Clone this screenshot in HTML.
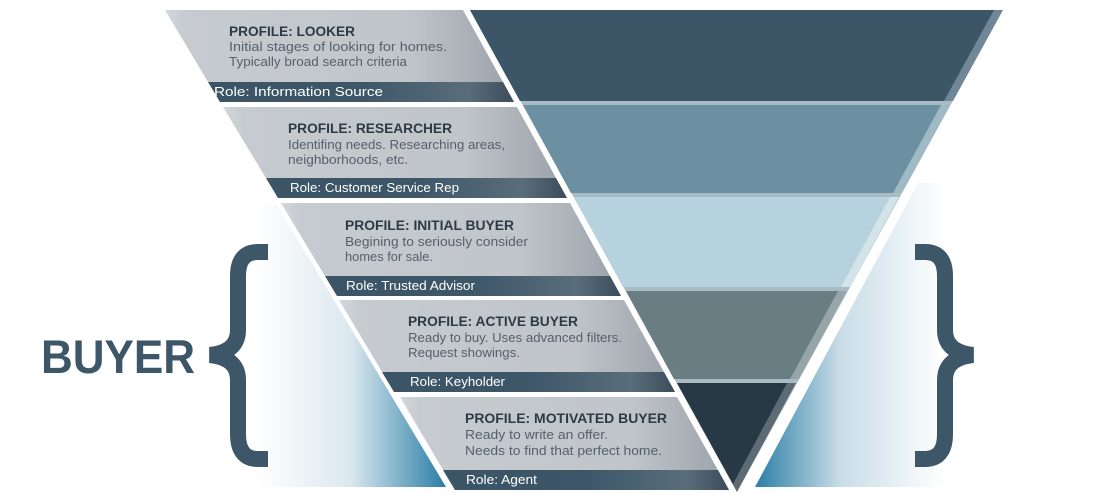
<!DOCTYPE html>
<html><head><meta charset="utf-8"><style>
html,body{margin:0;padding:0;background:#fff;width:1094px;height:495px;overflow:hidden}
svg{display:block}
.h{font-family:"Liberation Sans",sans-serif;font-weight:bold;font-size:13.5px;fill:#2e3a44}
.b{font-family:"Liberation Sans",sans-serif;font-size:12.5px;fill:#56606a}
.r{font-family:"Liberation Sans",sans-serif;font-size:12.5px;fill:#fff}
</style></head><body>
<svg width="1094" height="495" viewBox="0 0 1094 495" xmlns="http://www.w3.org/2000/svg">
<defs>
<linearGradient id="gl" gradientUnits="userSpaceOnUse" x1="255" y1="0" x2="446" y2="0"><stop offset="0" stop-color="#fff"/><stop offset="0.5" stop-color="#dbe8ef"/><stop offset="1" stop-color="#2a7ea6"/></linearGradient>
<linearGradient id="gr" gradientUnits="userSpaceOnUse" x1="755" y1="0" x2="945" y2="0"><stop offset="0" stop-color="#2a7ea6"/><stop offset="0.45" stop-color="#c9dde7"/><stop offset="1" stop-color="#fff"/></linearGradient>
<linearGradient id="gy" x1="0" y1="0" x2="1" y2="0"><stop offset="0" stop-color="#d3d7db"/><stop offset="0.06" stop-color="#c6cbd0"/><stop offset="0.7" stop-color="#c0c5ca"/><stop offset="1" stop-color="#9aa1a8"/></linearGradient>
<linearGradient id="rb" x1="0" y1="0" x2="1" y2="0"><stop offset="0" stop-color="#3b5567"/><stop offset="0.5" stop-color="#3d5769"/><stop offset="0.85" stop-color="#5a6d7a"/><stop offset="1" stop-color="#3b4d5a"/></linearGradient>
</defs>
<polygon points="230,205 277,205 446,487 230,487" fill="url(#gl)"/>
<polygon points="918,183 945,183 945,487 755,487" fill="url(#gr)"/>

<polygon points="470,10 1003,10 737,492" fill="#a9bcc6"/>
<polygon points="470,10 1003,10 953,101 520,101" fill="#6f8796"/>
<polygon points="470,10 994,10 944,101 520,101" fill="#3c5668"/>
<polygon points="523,105 950,105 902,193 571,193" fill="#9fb9c5"/>
<polygon points="523,105 941,105 893,193 571,193" fill="#6b90a2"/>
<polygon points="574,197 899,197 850,287 623,287" fill="#d2e3ea"/>
<polygon points="574,197 890,197 841,287 623,287" fill="#b6d2de"/>
<polygon points="626,291 847,291 799,379 674,379" fill="#95a5a8"/>
<polygon points="626,291 838,291 790,379 674,379" fill="#687e82"/>
<polygon points="677,383 796,383 737,492" fill="#5d6b75"/>
<polygon points="677,383 787,383 733,484" fill="#283946"/>

<polygon points="165,10 463,10 514,102 220,102" fill="url(#gy)"/>
<polygon points="208,82 503,82 514,102 220,102" fill="url(#rb)"/>
<polygon points="223,107 517,107 567,198 278,198" fill="url(#gy)"/>
<polygon points="266,178 556,178 567,198 278,198" fill="url(#rb)"/>
<polygon points="281,203 570,203 621,296 337,296" fill="url(#gy)"/>
<polygon points="325,276 610,276 621,296 337,296" fill="url(#rb)"/>
<polygon points="339,300 624,300 675,392 394,392" fill="url(#gy)"/>
<polygon points="382,372 664,372 675,392 394,392" fill="url(#rb)"/>
<polygon points="400,397 677,397 729,490 455,490" fill="url(#gy)"/>
<polygon points="443,470 718,470 729,490 455,490" fill="url(#rb)"/>

<g lengthAdjust="spacingAndGlyphs">
<text class="h" x="229" y="36" textLength="126" lengthAdjust="spacingAndGlyphs">PROFILE: LOOKER</text>
<text class="b" x="229" y="51" textLength="218" lengthAdjust="spacingAndGlyphs">Initial stages of looking for homes.</text>
<text class="b" x="229" y="66" textLength="178" lengthAdjust="spacingAndGlyphs">Typically broad search criteria</text>
<text class="r" x="214" y="96" textLength="169" lengthAdjust="spacingAndGlyphs">Role: Information Source</text>

<text class="h" x="288" y="133" textLength="164" lengthAdjust="spacingAndGlyphs">PROFILE: RESEARCHER</text>
<text class="b" x="288" y="149" textLength="217" lengthAdjust="spacingAndGlyphs">Identifing needs. Researching areas,</text>
<text class="b" x="288" y="164" textLength="120" lengthAdjust="spacingAndGlyphs">neighborhoods, etc.</text>
<text class="r" x="290" y="192" textLength="169" lengthAdjust="spacingAndGlyphs">Role: Customer Service Rep</text>

<text class="h" x="345" y="230" textLength="169" lengthAdjust="spacingAndGlyphs">PROFILE: INITIAL BUYER</text>
<text class="b" x="345" y="246" textLength="183" lengthAdjust="spacingAndGlyphs">Begining to seriously consider</text>
<text class="b" x="345" y="261" textLength="88" lengthAdjust="spacingAndGlyphs">homes for sale.</text>
<text class="r" x="346" y="290" textLength="129" lengthAdjust="spacingAndGlyphs">Role: Trusted Advisor</text>

<text class="h" x="408" y="326" textLength="170" lengthAdjust="spacingAndGlyphs">PROFILE: ACTIVE BUYER</text>
<text class="b" x="408" y="342" textLength="214" lengthAdjust="spacingAndGlyphs">Ready to buy. Uses advanced filters.</text>
<text class="b" x="408" y="357" textLength="112" lengthAdjust="spacingAndGlyphs">Request showings.</text>
<text class="r" x="410" y="386" textLength="95" lengthAdjust="spacingAndGlyphs">Role: Keyholder</text>

<text class="h" x="465" y="423" textLength="202" lengthAdjust="spacingAndGlyphs">PROFILE: MOTIVATED BUYER</text>
<text class="b" x="465" y="439" textLength="143" lengthAdjust="spacingAndGlyphs">Ready to write an offer.</text>
<text class="b" x="465" y="455" textLength="197" lengthAdjust="spacingAndGlyphs">Needs to find that perfect home.</text>
<text class="r" x="466" y="484" textLength="71" lengthAdjust="spacingAndGlyphs">Role: Agent</text>
</g>

<text x="41" y="373" font-family="Liberation Sans, sans-serif" font-weight="bold" font-size="47" fill="#3d5668" textLength="154" lengthAdjust="spacingAndGlyphs">BUYER</text>
<path d="M268,252 H258 Q238,252 238,276 V330 Q238,352 210,355 Q238,358 238,380 V434 Q238,459 258,459 H268" fill="none" stroke="#3d5668" stroke-width="16"/>
<path d="M915,252 H925 Q945,252 945,276 V330 Q945,352 973,355 Q945,358 945,380 V434 Q945,459 925,459 H915" fill="none" stroke="#3d5668" stroke-width="16"/>
</svg>
</body></html>
